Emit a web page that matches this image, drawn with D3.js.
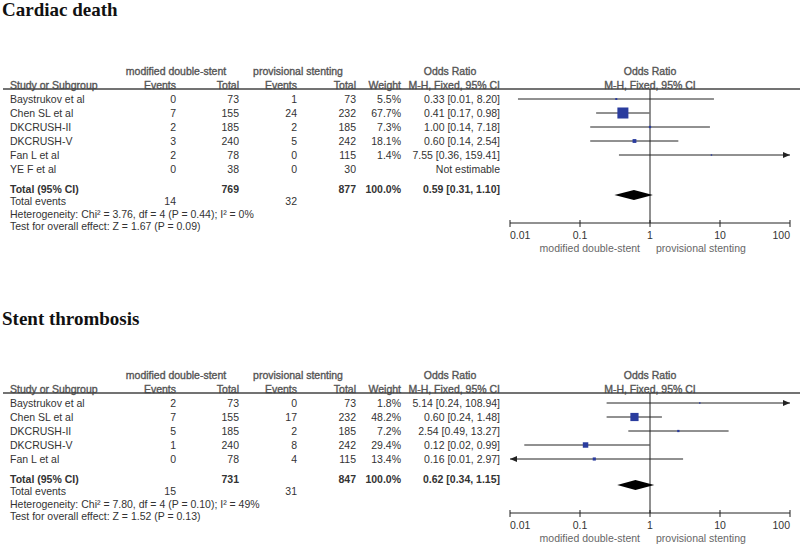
<!DOCTYPE html>
<html>
<head>
<meta charset="utf-8">
<script src="https://cdn.jsdelivr.net/npm/d3@7"></script>
<style>
  body { margin: 0; background: #fff; }
  svg text { font-family: "Liberation Sans", Arial, sans-serif; font-size: 10.5px; fill: #333; }
  svg text.title { font-family: "Liberation Serif", "Times New Roman", serif; font-size: 19px; font-weight: bold; fill: #111; }
  svg text.hdr { fill: #555; stroke: #555; stroke-width: 0.35px; }
  svg text.bold { font-weight: bold; }
  svg text.foot { fill: #666; }
</style>
</head>
<body>
<div id="graph"></div>
<script>
// ---- Cardiac death
var cdStudies = ["Baystrukov et al", "Chen SL et al", "DKCRUSH-II", "DKCRUSH-V", "Fan L et al", "YE F et al"];
var cdEvents1 = [0, 7, 2, 3, 2, 0];
var cdTotal1  = [73, 155, 185, 240, 78, 38];
var cdEvents2 = [1, 24, 2, 5, 0, 0];
var cdTotal2  = [73, 232, 185, 242, 115, 30];
var cdWeight  = [5.5, 67.7, 7.3, 18.1, 1.4, null];
var cdOR      = [0.33, 0.41, 1.00, 0.60, 7.55, null];
var cdLow     = [0.013, 0.17, 0.14, 0.14, 0.36, null];
var cdHigh    = [8.20, 0.98, 7.18, 2.54, 159.41, null];
var cdPooled  = [0.59, 0.31, 1.10];
var cdSums    = [769, 877, 14, 32];
var cdHet     = "Heterogeneity: Chi² = 3.76, df = 4 (P = 0.44); I² = 0%";
var cdTest    = "Test for overall effect: Z = 1.67 (P = 0.09)";

// ---- Stent thrombosis
var stStudies = ["Baystrukov et al", "Chen SL et al", "DKCRUSH-II", "DKCRUSH-V", "Fan L et al"];
var stEvents1 = [2, 7, 5, 1, 0];
var stTotal1  = [73, 155, 185, 240, 78];
var stEvents2 = [0, 17, 2, 8, 4];
var stTotal2  = [73, 232, 185, 242, 115];
var stWeight  = [1.8, 48.2, 7.2, 29.4, 13.4];
var stOR      = [5.14, 0.60, 2.54, 0.12, 0.16];
var stLow     = [0.24, 0.24, 0.49, 0.016, 0.0086];
var stHigh    = [108.94, 1.48, 13.27, 0.99, 2.97];
var stPooled  = [0.62, 0.34, 1.15];
var stSums    = [731, 847, 15, 31];
var stHet     = "Heterogeneity: Chi² = 7.80, df = 4 (P = 0.10); I² = 49%";
var stTest    = "Test for overall effect: Z = 1.52 (P = 0.13)";

var ticks = [0.01, 0.1, 1, 10, 100];
var groupLabels = ["modified double-stent", "provisional stenting"];

var svg = d3.select("#graph")
  .append("svg")
    .attr("width", 800)
    .attr("height", 545);

var x = d3.scaleLog().domain([0.01, 100]).range([510, 790]);
var boxSize = d3.scaleLinear().domain([0, 100]).range([1.2, 15.7]);
var f2 = function(v) { return v.toFixed(2); };

// column right edges
var col = { ev1: 176, tot1: 239, ev2: 297, tot2: 356, wt: 401, or: 500 };

function txt(g, str, px, py, anchor, cls) {
  return g.append("text")
    .attr("x", px).attr("y", py).attr("dy", "0.35em")
    .attr("text-anchor", anchor || "start")
    .attr("class", cls || null)
    .text(str);
}

function arrow(g, px, py, dir) {
  g.append("path")
    .attr("d", "M" + px + "," + py + "l" + (-7 * dir) + ",-3l0,6z")
    .style("fill", "#222");
}

function panel(title, titleY, top, d) {
  var g = svg.append("g");
  txt(g, title, 2, titleY, "start", "title").attr("dy", null);

  // headers
  txt(g, groupLabels[0], 176, top, "middle", "hdr");
  txt(g, groupLabels[1], 298, top, "middle", "hdr");
  txt(g, "Odds Ratio", 450, top, "middle", "hdr");
  txt(g, "Odds Ratio", 650, top, "middle", "hdr");
  var h2 = top + 14;
  txt(g, "Study or Subgroup", 10, h2, "start", "hdr");
  txt(g, "Events", col.ev1, h2, "end", "hdr");
  txt(g, "Total", col.tot1, h2, "end", "hdr");
  txt(g, "Events", col.ev2, h2, "end", "hdr");
  txt(g, "Total", col.tot2, h2, "end", "hdr");
  txt(g, "Weight", col.wt, h2, "end", "hdr");
  txt(g, "M-H, Fixed, 95% CI", col.or, h2, "end", "hdr");
  txt(g, "M-H, Fixed, 95% CI", 650, h2, "middle", "hdr");

  var lineY = top + 18;
  g.append("line")
    .attr("x1", 3).attr("x2", 800).attr("y1", lineY).attr("y2", lineY)
    .style("stroke", "#444").style("stroke-width", 1.3);

  var rowY = function(i) { return top + 28 + i * 14; };
  var n = d.studies.length;
  var totY = rowY(n - 1) + 20;
  var axisY = totY + 34;

  // line of no effect
  g.append("line")
    .attr("x1", x(1)).attr("x2", x(1)).attr("y1", lineY).attr("y2", axisY)
    .style("stroke", "#222").style("stroke-width", 1);

  d.studies.forEach(function(s, i) {
    var y = rowY(i);
    txt(g, s, 10, y);
    txt(g, d.e1[i], col.ev1, y, "end");
    txt(g, d.n1[i], col.tot1, y, "end");
    txt(g, d.e2[i], col.ev2, y, "end");
    txt(g, d.n2[i], col.tot2, y, "end");
    if (d.or[i] == null) {
      txt(g, "Not estimable", col.or, y, "end");
      return;
    }
    txt(g, d.w[i].toFixed(1) + "%", col.wt, y, "end");
    txt(g, f2(d.or[i]) + " [" + f2(d.lo[i]) + ", " + f2(d.hi[i]) + "]", col.or, y, "end");

    var xl = Math.max(x(d.lo[i]), x.range()[0]);
    var xh = Math.min(x(d.hi[i]), x.range()[1]);
    g.append("line")
      .attr("x1", xl).attr("x2", xh).attr("y1", y).attr("y2", y)
      .style("stroke", "#222").style("stroke-width", 1);
    if (d.hi[i] > 100) arrow(g, x.range()[1], y, 1);
    if (d.lo[i] < 0.01) arrow(g, x.range()[0], y, -1);
    var s2 = boxSize(d.w[i]);
    g.append("rect")
      .attr("x", x(d.or[i]) - s2 / 2).attr("y", y - s2 / 2)
      .attr("width", s2).attr("height", s2)
      .style("fill", "#2a3c9e");
  });

  // totals
  txt(g, "Total (95% CI)", 10, totY, "start", "bold");
  txt(g, d.sums[0], col.tot1, totY, "end", "bold");
  txt(g, d.sums[1], col.tot2, totY, "end", "bold");
  txt(g, "100.0%", col.wt, totY, "end", "bold");
  txt(g, f2(d.pooled[0]) + " [" + f2(d.pooled[1]) + ", " + f2(d.pooled[2]) + "]", col.or, totY, "end", "bold");
  var dy = totY + 6;
  g.append("path")
    .attr("d", "M" + x(d.pooled[1]) + "," + dy + "L" + x(d.pooled[0]) + "," + (dy - 5) +
               "L" + x(d.pooled[2]) + "," + dy + "L" + x(d.pooled[0]) + "," + (dy + 5) + "Z")
    .style("fill", "#000");

  txt(g, "Total events", 10, totY + 12.5);
  txt(g, d.sums[2], col.ev1, totY + 12.5, "end");
  txt(g, d.sums[3], col.ev2, totY + 12.5, "end");
  txt(g, d.het, 10, totY + 25);
  txt(g, d.test, 10, totY + 37.5);

  // axis
  g.append("line")
    .attr("x1", x.range()[0]).attr("x2", x.range()[1]).attr("y1", axisY).attr("y2", axisY)
    .style("stroke", "#222");
  g.selectAll(".tk").data(ticks).enter().append("line")
    .attr("x1", function(t) { return x(t); }).attr("x2", function(t) { return x(t); })
    .attr("y1", axisY - 3).attr("y2", axisY + 4)
    .style("stroke", "#222");
  ticks.forEach(function(t, i) {
    var a = i == 0 ? "start" : (i == ticks.length - 1 ? "end" : "middle");
    txt(g, String(t), x(t), axisY + 12, a);
  });
  txt(g, groupLabels[0], x(1) - 10, axisY + 25, "end", "foot");
  txt(g, groupLabels[1], x(1) + 6, axisY + 25, "start", "foot");
}

panel("Cardiac death", 16, 71, {
  studies: cdStudies, e1: cdEvents1, n1: cdTotal1, e2: cdEvents2, n2: cdTotal2,
  w: cdWeight, or: cdOR, lo: cdLow, hi: cdHigh, pooled: cdPooled, sums: cdSums,
  het: cdHet, test: cdTest
});

panel("Stent thrombosis", 325, 375, {
  studies: stStudies, e1: stEvents1, n1: stTotal1, e2: stEvents2, n2: stTotal2,
  w: stWeight, or: stOR, lo: stLow, hi: stHigh, pooled: stPooled, sums: stSums,
  het: stHet, test: stTest
});
</script>
</body>
</html>
